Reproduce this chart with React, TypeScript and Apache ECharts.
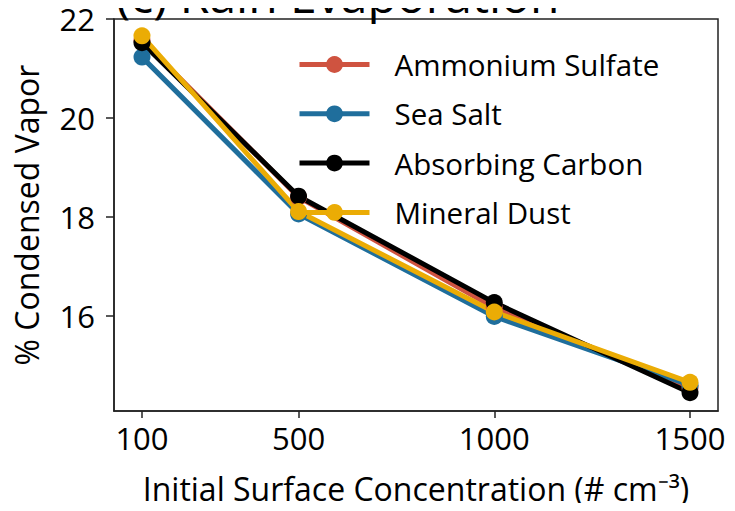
import React, { useEffect, useRef } from "react";
import * as echarts from "echarts";

const concentrations = [100, 500, 1000, 1500];
const ammoniumSulfate = [21.57, 18.4, 16.17, 14.55];
const seaSalt = [21.23, 18.06, 15.99, 14.6];
const absorbingCarbon = [21.52, 18.42, 16.27, 14.45];
const mineralDust = [21.66, 18.11, 16.08, 14.66];
const xTicks = [100, 500, 1000, 1500];
const yTicks = [16, 18, 20, 22];

const seriesDefs = [
  { name: "Ammonium Sulfate", data: ammoniumSulfate, color: "#cf5340" },
  { name: "Sea Salt", data: seaSalt, color: "#1f6e9c" },
  { name: "Absorbing Carbon", data: absorbingCarbon, color: "#000000" },
  { name: "Mineral Dust", data: mineralDust, color: "#ebac05" },
];

const FONT = "Open Sans";

export default function App() {
  const ref = useRef<HTMLDivElement>(null);
  useEffect(() => {
    if (!ref.current) return;
    const chart = echarts.init(ref.current, null, { renderer: "svg" });
    chart.setOption({
      animation: false,
      backgroundColor: "#ffffff",
      textStyle: { fontFamily: FONT },
      grid: {
        left: 114,
        top: 19,
        right: 17,
        bottom: 100,
        show: true,
        borderColor: "#222",
        borderWidth: 1.5,
        containLabel: false,
      },
      graphic: [
        {
          type: "text",
          left: 116,
          top: -30,
          style: {
            text: "(c) Rain Evaporation",
            font: `48px ${FONT}`,
            fill: "#000",
          },
        },
      ],
      legend: {
        orient: "vertical",
        left: 297,
        top: 48,
        padding: 0,
        itemWidth: 70,
        itemHeight: 21,
        itemGap: 16.3,
        lineStyle: { width: 5 },
        textStyle: {
          fontFamily: FONT,
          fontSize: 29.5,
          color: "#000",
          lineHeight: 33,
          padding: [0, 0, 0, 20],
        },
        data: seriesDefs.map((s) => s.name),
      },
      xAxis: {
        type: "value",
        min: 28.5,
        max: 1571.5,
        name: "Initial Surface Concentration (# cm⁻³)",
        nameLocation: "middle",
        nameGap: 61,
        nameTextStyle: { fontFamily: FONT, fontSize: 32, color: "#000" },
        axisLine: { show: true, lineStyle: { color: "#222", width: 1.5 } },
        axisTick: {
          show: true,
          inside: false,
          length: 7,
          lineStyle: { color: "#222", width: 1.5 },
          customValues: xTicks,
        },
        axisLabel: {
          customValues: xTicks,
          margin: 11,
          fontFamily: FONT,
          fontSize: 31,
          color: "#000",
          formatter: (v: number) => String(v),
        },
        splitLine: { show: false },
      },
      yAxis: {
        type: "value",
        min: 14.08,
        max: 22.0,
        name: "% Condensed Vapor",
        nameLocation: "middle",
        nameGap: 72,
        nameTextStyle: { fontFamily: FONT, fontSize: 32, color: "#000" },
        axisLine: { show: true, lineStyle: { color: "#222", width: 1.5 } },
        axisTick: {
          show: true,
          inside: false,
          length: 8,
          lineStyle: { color: "#222", width: 1.5 },
          customValues: yTicks,
        },
        axisLabel: {
          customValues: yTicks,
          margin: 19,
          fontFamily: FONT,
          fontSize: 31,
          color: "#000",
          formatter: (v: number) => String(v),
        },
        splitLine: { show: false },
      },
      series: seriesDefs.map((s) => ({
        name: s.name,
        type: "line",
        data: concentrations.map((c, i) => [c, s.data[i]]),
        symbol: "circle",
        symbolSize: 17,
        showSymbol: true,
        itemStyle: { color: s.color },
        lineStyle: { color: s.color, width: 5 },
        emphasis: { disabled: true },
      })),
    });
    return () => chart.dispose();
  }, []);
  return <div ref={ref} style={{ width: 735, height: 511, margin: -8 }} />;
}
